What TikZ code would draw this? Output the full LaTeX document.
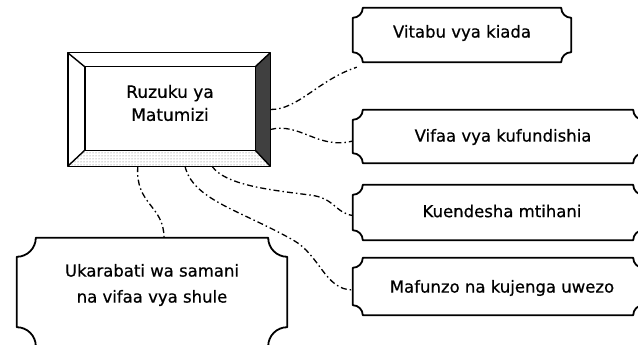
\documentclass[tikz,border=0pt]{standalone}
\usepackage{fontspec}
\setmainfont{DejaVu Sans}[FakeBold=0.6]
\usetikzlibrary{calc,patterns}
\tikzset{
  boxnode/.style={draw=none, inner sep=0pt},
  boxline/.style={line width=1.8pt, line join=round},
  bevelline/.style={line width=1.4pt, line join=round},
  txt/.style={inner sep=0pt, align=center, font=\fontsize{16.5}{25}\selectfont},
  conn/.style={line width=1.3pt, dash pattern=on 6pt off 3pt on 1.5pt off 3pt},
  darkbevel/.style={fill=black!75},
  lightbevel/.style={pattern=dots, pattern color=black!60}
}
\newcommand\scalbox[2]{%
  \draw[boxline] let \p1=(#1.north west), \p2=(#1.south east) in
  (\x1,{\y1-#2}) .. controls ({\x1+0.55*#2},{\y1-#2}) and ({\x1+#2},{\y1-0.55*#2}) .. ({\x1+#2},\y1)
  -- ({\x2-#2},\y1) .. controls ({\x2-#2},{\y1-0.55*#2}) and ({\x2-0.55*#2},{\y1-#2}) .. (\x2,{\y1-#2})
  -- (\x2,{\y2+#2}) .. controls ({\x2-0.55*#2},{\y2+#2}) and ({\x2-#2},{\y2+0.55*#2}) .. ({\x2-#2},\y2)
  -- ({\x1+#2},\y2) .. controls ({\x1+#2},{\y2+0.55*#2}) and ({\x1+0.55*#2},{\y2+#2}) .. (\x1,{\y2+#2})
  -- cycle;}
\begin{document}
\begin{tikzpicture}[x=1pt,y=-1pt]
\useasboundingbox (0,0) rectangle (638,345);

% main bevelled box
\node[boxnode, minimum width=202, minimum height=113] (main) at (169,109.5) {};
\coordinate (iNW) at ($(main.north west)+(17,14)$);
\coordinate (iSE) at ($(main.south east)+(-15,-16)$);
\coordinate (iNE) at (iSE |- iNW);
\coordinate (iSW) at (iNW |- iSE);
\fill[darkbevel] (main.north east) -- (main.south east) -- (iSE) -- (iNE) -- cycle;
\fill[lightbevel] (main.south west) -- (main.south east) -- (iSE) -- (iSW) -- cycle;
\draw[bevelline] (main.north west) rectangle (main.south east);
\draw[bevelline] (iNW) rectangle (iSE);
\draw[bevelline] (main.north west) -- (iNW) (main.north east) -- (iNE)
  (main.south west) -- (iSW) (main.south east) -- (iSE);
\node[txt, font=\fontsize{17}{23}\selectfont] (maintext) at (170,103) {Ruzuku ya\\Matumizi};

% right boxes
\node[boxnode, minimum width=218, minimum height=54] (vit) at (462,35) {};
\node[boxnode, minimum width=290, minimum height=53] (vif) at (498,136.5) {};
\node[boxnode, minimum width=290, minimum height=55] (kue) at (498,212.5) {};
\node[boxnode, minimum width=290, minimum height=57] (maf) at (498,286.5) {};
\node[boxnode, minimum width=270, minimum height=108] (uka) at (152,292) {};
\scalbox{vit}{10pt}
\scalbox{vif}{10pt}
\scalbox{kue}{10pt}
\scalbox{maf}{10pt}
\scalbox{uka}{19pt}

\node[txt] (vittext) at (462,33) {Vitabu vya kiada};
\node[txt] (viftext) at (503,137) {Vifaa vya kufundishia};
\node[txt] (kuetext) at (502,211) {Kuendesha mtihani};
\node[txt] (maftext) at (502,288) {Mafunzo na kujenga uwezo};
\node[txt, font=\fontsize{16.5}{26}\selectfont] (ukatext) at (152,285) {Ukarabati wa samani\\na vifaa vya shule};

% connectors
\draw[conn] (main.east) .. controls (298,110) and (318,80) .. ($(vit.south west)+(4,5)$);
\draw[conn] ($(main.east)+(0,20)$) .. controls (300,122) and (318,150) .. ($(vif.west)+(0,4.5)$);
\draw[conn] ($(main.south west)+(70,0)$) .. controls (135,205) and (164,205) .. ($(uka.north)+(12,0)$);
\draw[conn] ($(main.south)+(16,0)$) .. controls (193,200) and (240,210) .. (293,240)
  .. controls (320,255) and (325,290) .. ($(maf.west)+(0,3.5)$);
\draw[conn] ($(main.south)+(43,0)$) .. controls (225,185) and (270,190) .. (310,195)
  .. controls (335,198) and (335,213) .. ($(kue.west)+(0,3)$);
\end{tikzpicture}
\end{document}
